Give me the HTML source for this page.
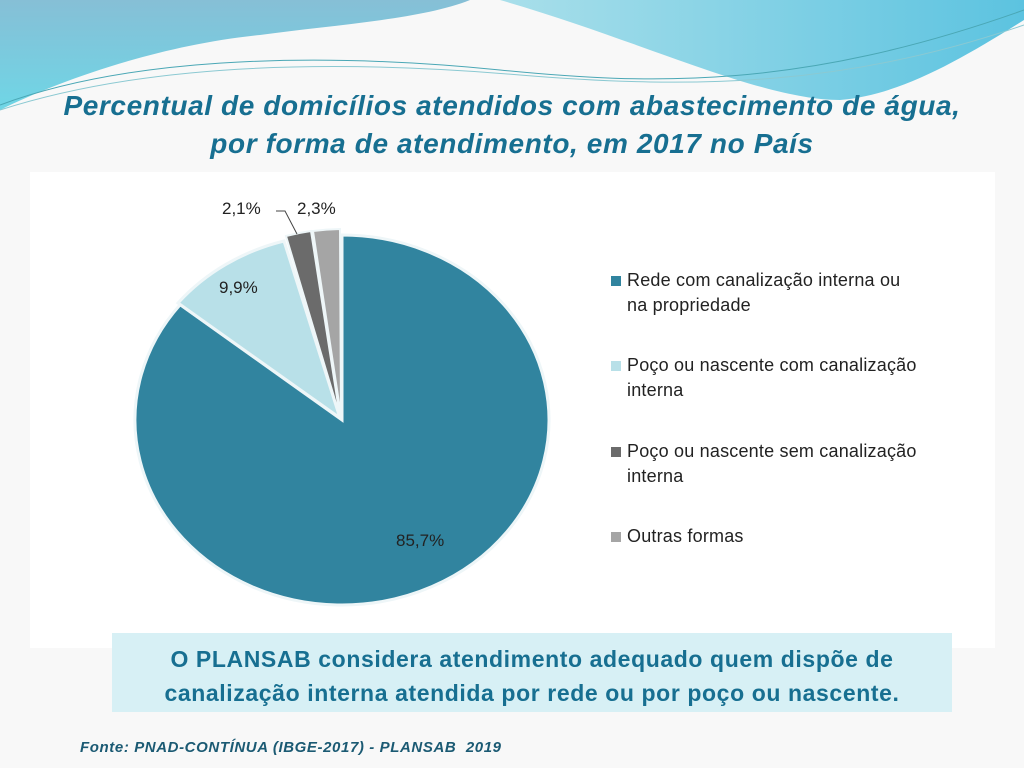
<!DOCTYPE html>
<html><head><meta charset="utf-8"><style>
html,body{margin:0;padding:0}
body{width:1024px;height:768px;position:relative;overflow:hidden;background:#f7f7f7;font-family:"Liberation Sans",sans-serif}
.t{position:absolute;left:0;width:1024px;text-align:center;color:#176f91;font-weight:bold;font-style:italic;font-size:28px;letter-spacing:0.6px}
.leg{position:absolute;left:627px;font-size:18px;color:#222;line-height:25px;letter-spacing:0.2px}
.sq{position:absolute;left:-16px;top:8px;width:10px;height:10px}
</style></head><body>
<svg width="1024" height="768" style="position:absolute;left:0;top:0">
<defs>
<linearGradient id="g1" x1="0" y1="0" x2="0" y2="1"><stop offset="0" stop-color="#86bfd6"/><stop offset="1" stop-color="#6fd6e6"/></linearGradient>
<linearGradient id="g2" x1="0" y1="0" x2="1" y2="0"><stop offset="0" stop-color="#a9dfea"/><stop offset="1" stop-color="#5cc3e0"/></linearGradient>
</defs>
<rect x="0" y="0" width="1024" height="768" fill="#f8f8f8"/>
<path d="M0,0 H470 C420,20 330,25 260,35 C160,45 60,80 0,110 Z" fill="url(#g1)"/>
<path d="M500,0 H1024 V20 C960,60 900,95 840,100 C760,100 640,40 500,0 Z" fill="url(#g2)"/>
<path d="M0,105 C120,60 300,50 500,70 C650,85 800,90 1024,10" fill="none" stroke="#4aa7b5" stroke-width="1"/>
<path d="M0,110 C140,65 320,58 520,75 C700,90 850,85 1024,25" fill="none" stroke="#8bc9d2" stroke-width="1"/>
<rect x="30" y="172" width="965" height="476" fill="#fff"/>
<path d="M342,420 L342,235 A207,185 0 1 1 180.1,304.7 Z" fill="#31849f" stroke="#eef6f8" stroke-width="3"/>
<path d="M340,418 L178,303 A207,185 0 0 1 284,241 Z" fill="#b8e0e8" stroke="#eef6f8" stroke-width="3"/>
<path d="M340,417 L286,236 A207,185 0 0 1 311,231 Z" fill="#6b6b6b" stroke="#eef6f8" stroke-width="2"/>
<path d="M341,416 L313,231 A207,185 0 0 1 340,229 Z" fill="#a5a5a5" stroke="#eef6f8" stroke-width="2"/>
<polyline points="276,211 285,211 297,234" fill="none" stroke="#444" stroke-width="1"/>
<g font-family="Liberation Sans,sans-serif" font-size="17" fill="#222">
<text x="222" y="214">2,1%</text>
<text x="297" y="214">2,3%</text>
<text x="219" y="293">9,9%</text>
<text x="396" y="546">85,7%</text>
</g>
<rect x="112" y="633" width="840" height="79" fill="#d7f0f5"/>
</svg>
<div class="t" style="top:90px">Percentual de domicílios atendidos com abastecimento de água,</div>
<div class="t" style="top:128px">por forma de atendimento, em 2017 no País</div>
<div class="leg" style="top:268px"><span class="sq" style="background:#31849f"></span>Rede com canalização interna ou<br>na propriedade</div>
<div class="leg" style="top:353px"><span class="sq" style="background:#b8e0e8"></span>Poço ou nascente com canalização<br>interna</div>
<div class="leg" style="top:439px"><span class="sq" style="background:#6b6b6b"></span>Poço ou nascente sem canalização<br>interna</div>
<div class="leg" style="top:524px"><span class="sq" style="background:#a5a5a5"></span>Outras formas</div>
<div style="position:absolute;left:112px;top:642px;width:840px;text-align:center;color:#176f91;font-weight:bold;font-size:23px;line-height:34px;letter-spacing:0.6px">O PLANSAB considera atendimento adequado quem dispõe de<br>canalização interna atendida por rede ou por poço ou nascente.</div>
<div style="position:absolute;left:80px;top:739px;color:#1b5a73;font-weight:bold;font-style:italic;font-size:15px;letter-spacing:0.6px">Fonte: PNAD-CONTÍNUA (IBGE-2017) - PLANSAB&nbsp; 2019</div>
</body></html>
